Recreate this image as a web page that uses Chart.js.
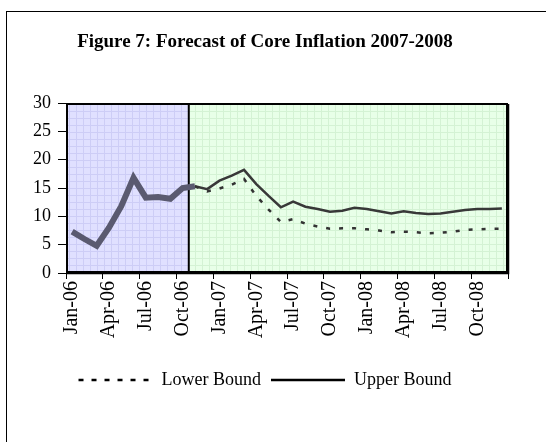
<!DOCTYPE html>
<html>
<head>
<meta charset="utf-8">
<script src="https://cdn.jsdelivr.net/npm/chart.js@4/dist/chart.umd.min.js"></script>
<style>
  html, body { margin: 0; padding: 0; background: #fff; overflow: hidden; }
  #frame { position: absolute; left: 6px; top: 11px; width: 600px; height: 500px; border: 1px solid #000; }
  #wrap { position: absolute; left: 0; top: 0; width: 546px; height: 442px; }
</style>
</head>
<body>
<div id="frame"></div>
<div id="wrap"><canvas id="chart"></canvas></div>
<script>
// months Jan-06 .. Dec-08
const months = [
  "Jan-06","Feb-06","Mar-06","Apr-06","May-06","Jun-06","Jul-06","Aug-06","Sep-06","Oct-06","Nov-06","Dec-06",
  "Jan-07","Feb-07","Mar-07","Apr-07","May-07","Jun-07","Jul-07","Aug-07","Sep-07","Oct-07","Nov-07","Dec-07",
  "Jan-08","Feb-08","Mar-08","Apr-08","May-08","Jun-08","Jul-08","Aug-08","Sep-08","Oct-08","Nov-08","Dec-08"
];

const actual = [7.3, 6.0, 4.8, 8.0, 11.8, 16.8, 13.3, 13.4, 13.1, 15.0, 15.3,
  null, null, null, null, null, null, null, null, null, null, null, null, null,
  null, null, null, null, null, null, null, null, null, null, null, null];

const lowerBound = [null, null, null, null, null, null, null, null, null, null,
  15.3, 14.4, 14.9, 15.6, 16.6, 13.6, 11.2, 9.0, 9.5, 8.7, 8.2, 7.8, 7.9, 7.9,
  7.7, 7.5, 7.2, 7.3, 7.2, 7.0, 7.1, 7.3, 7.6, 7.7, 7.8, 7.8];

const upperBound = [null, null, null, null, null, null, null, null, null, null,
  15.3, 14.8, 16.3, 17.2, 18.2, 15.7, 13.6, 11.6, 12.6, 11.7, 11.3, 10.8, 11.0, 11.5,
  11.3, 10.9, 10.5, 10.9, 10.6, 10.4, 10.5, 10.8, 11.1, 11.3, 11.3, 11.4];

const yTicks = [0, 5, 10, 15, 20, 25, 30];
const lastHistoryMonth = "Oct-06";

function makePattern(ctx, base, line) {
  const c = document.createElement("canvas");
  c.width = 7; c.height = 7;
  const g = c.getContext("2d");
  g.fillStyle = base;
  g.fillRect(0, 0, 7, 7);
  g.fillStyle = line;
  g.fillRect(0, 6, 7, 1);
  g.fillRect(6, 0, 1, 7);
  return ctx.createPattern(c, "repeat");
}

const shading = {
  id: "shading",
  beforeDatasetsDraw(chart) {
    const { ctx, chartArea: a, scales: { x } } = chart;
    const i = months.indexOf(lastHistoryMonth);
    const split = (x.getPixelForValue(i) + x.getPixelForValue(i + 1)) / 2;
    ctx.save();
    ctx.fillStyle = makePattern(ctx, "#e0e0ff", "#cdcdf6");
    ctx.fillRect(a.left, a.top, split - a.left, a.bottom - a.top);
    ctx.fillStyle = makePattern(ctx, "#e8ffe8", "#d4f2d4");
    ctx.fillRect(split, a.top, a.right - split, a.bottom - a.top);
    ctx.strokeStyle = "#000";
    ctx.lineWidth = 2;
    ctx.beginPath();
    ctx.moveTo(split, a.top);
    ctx.lineTo(split, a.bottom);
    ctx.stroke();
    ctx.strokeRect(a.left + 1, a.top + 1, a.right - a.left - 2, a.bottom - a.top - 2);
    ctx.lineWidth = 1.5;
    ctx.beginPath();
    ctx.moveTo(a.right + 0.5, a.top + 1);
    ctx.lineTo(a.right + 0.5, a.bottom + 0.5);
    ctx.lineTo(a.left, a.bottom + 0.5);
    ctx.stroke();
    ctx.restore();
  }
};

const serif = "'Liberation Serif', 'Times New Roman', serif";

new Chart(document.getElementById("chart"), {
  type: "line",
  data: {
    labels: months,
    datasets: [
      {
        label: "Actual",
        data: actual,
        borderColor: "#5a5a70",
        borderWidth: 6,
        pointRadius: 0,
        tension: 0
      },
      {
        label: "Lower Bound",
        data: lowerBound,
        borderColor: "#333333",
        borderWidth: 2.5,
        borderDash: [4, 9],
        pointRadius: 0,
        tension: 0
      },
      {
        label: "Upper Bound",
        data: upperBound,
        borderColor: "#383838",
        borderWidth: 2.5,
        pointRadius: 0,
        tension: 0
      }
    ]
  },
  options: {
    responsive: true,
    maintainAspectRatio: false,
    animation: false,
    layout: { padding: { left: 0, right: 16, top: 0, bottom: 43 } },
    plugins: {
      title: {
        display: true,
        text: "Figure 7: Forecast of Core Inflation 2007-2008",
        color: "#000",
        font: { family: serif, size: 19, weight: "bold" },
        padding: { top: 31, bottom: 49.2 }
      },
      legend: {
        position: "bottom",
        labels: {
          color: "#000",
          font: { family: serif, size: 18 },
          usePointStyle: true,
          pointStyle: "line",
          pointStyleWidth: 74,
          padding: 10,
          generateLabels: chart => {
            const items = Chart.defaults.plugins.legend.labels.generateLabels(chart);
            return items
              .filter(it => it.text !== "Actual")
              .map(it => {
                const ds = chart.data.datasets[it.datasetIndex];
                it.lineDash = ds.borderDash ? [5, 8] : [];
                it.lineWidth = ds.borderWidth;
                it.strokeStyle = "#000";
                return it;
              });
          }
        }
      },
      tooltip: { enabled: false }
    },
    scales: {
      x: {
        offset: true,
        grid: {
          offset: true,
          drawOnChartArea: false,
          tickLength: 6,
          tickColor: ctx => (ctx.index === undefined || ctx.index % 3 === 0) ? "#000" : "rgba(0,0,0,0)"
        },
        border: { color: "#000", width: 1 },
        ticks: {
          autoSkip: false,
          minRotation: 90,
          maxRotation: 90,
          padding: 2,
          color: "#000",
          font: { family: serif, size: 20 },
          callback: (v, i) => i % 3 === 0 ? months[i] : ""
        },
        afterFit: scale => { scale.height = 88; }
      },
      y: {
        min: 0,
        max: 30,
        afterBuildTicks: scale => { scale.ticks = yTicks.map(v => ({ value: v })); },
        grid: { drawOnChartArea: false, tickLength: 8, tickColor: "#000" },
        border: { color: "#000", width: 1 },
        ticks: {
          padding: 7,
          color: "#000",
          font: { family: serif, size: 18 }
        },
        afterFit: scale => { scale.width = 66; }
      },
      spacer: {
        position: "right",
        display: true,
        grid: { display: false },
        border: { display: false },
        ticks: { display: false },
        afterFit: scale => { scale.width = 22; }
      }
    }
  },
  plugins: [shading]
});
</script>
</body>
</html>
